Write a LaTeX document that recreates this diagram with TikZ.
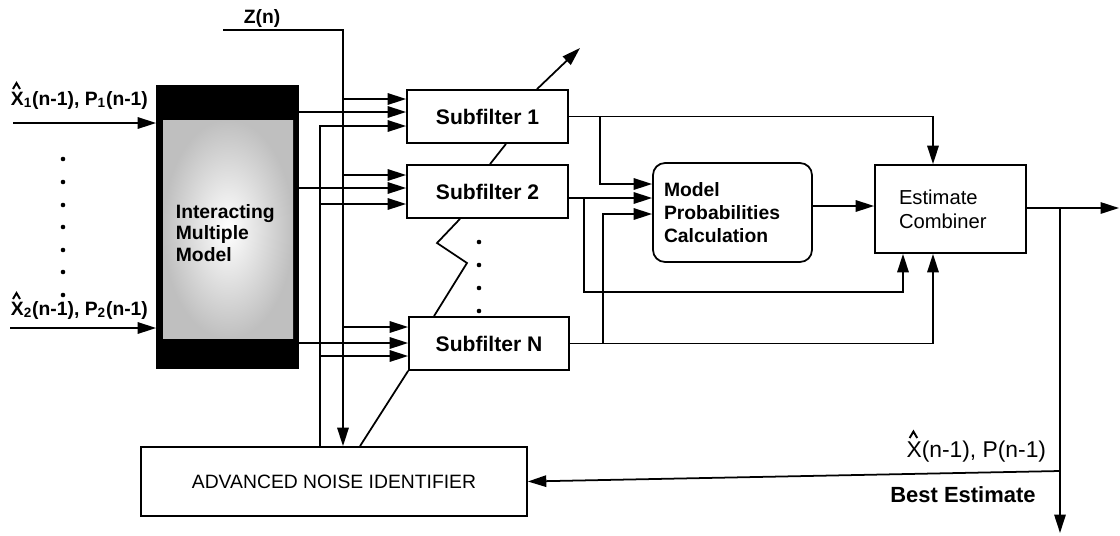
\documentclass[tikz,border=0pt]{standalone}
\usepackage{fontspec}
\setmainfont{Liberation Sans}
\usetikzlibrary{arrows.meta,calc}
\begin{document}
\begin{tikzpicture}[x=0.02cm, y=-0.02cm, line width=1pt,
  box/.style={draw, line width=1pt, inner sep=0pt},
  arr/.style={-{Triangle[length=10.5pt,width=6.5pt]}},
  lab/.style={inner sep=0pt},
  hatmark/.style={line width=1.1pt, line join=miter}]
\useasboundingbox (0,0) rectangle (1120,535);

% IMM block
\node[box, fill=black, minimum width=2.82cm, minimum height=5.64cm] (imm) at (227.5,227) {};
\fill[gray!50] (163,120) rectangle (293,338);
\shade[inner color=white, outer color=gray!50] (163,120) rectangle (293,338);
\node[lab, anchor=west, align=left, font=\fontsize{11}{12.2}\selectfont\bfseries] (immtext) at (175,233) {Interacting\\Multiple\\Model};

% subfilters
\node[box, minimum width=3.22cm, minimum height=1.06cm, font=\fontsize{12}{14}\selectfont\bfseries] (sf1) at (487.5,116.5) {Subfilter 1};
\node[box, minimum width=3.22cm, minimum height=1.06cm, font=\fontsize{12}{14}\selectfont\bfseries] (sf2) at (487.5,191.5) {Subfilter 2};
\node[box, minimum width=3.2cm, minimum height=1.06cm, font=\fontsize{12}{14}\selectfont\bfseries] (sfN) at (489,343.5) {Subfilter N};

% model probabilities
\node[box, rounded corners=0.24cm, minimum width=3.18cm, minimum height=1.98cm, text width=2.74cm, inner xsep=0.22cm, align=left, font=\fontsize{11}{13}\selectfont\bfseries] (mp) at (732.5,212.5) {Model\\Probabilities\\Calculation};

% estimate combiner
\node[box, minimum width=3.02cm, minimum height=1.76cm, text width=2.06cm, inner xsep=0.48cm, align=left, font=\fontsize{11.5}{13.5}\selectfont] (ec) at (950.5,209) {Estimate\\Combiner};

% noise identifier
\node[box, minimum width=7.72cm, minimum height=1.38cm, font=\fontsize{11}{13}\selectfont] (ani) at (334,481.5) {ADVANCED NOISE IDENTIFIER};

% labels
\node[lab, font=\fontsize{11}{13}\selectfont\bfseries] (zlab) at (262,18) {Z(n)};
\node[lab, anchor=base west, font=\fontsize{11}{13}\selectfont\bfseries] (x1lab) at (10,105) {X\textsubscript{1}(n-1), P\textsubscript{1}(n-1)};
\node[lab, anchor=base west, font=\fontsize{11}{13}\selectfont\bfseries] (x2lab) at (10,315) {X\textsubscript{2}(n-1), P\textsubscript{2}(n-1)};
\node[lab, anchor=base east, font=\fontsize{13}{15}\selectfont] (xlab) at (1047,457) {X(n-1), P(n-1)};
\node[lab, font=\fontsize{12.5}{15}\selectfont\bfseries] (best) at (963,495) {Best Estimate};

% hats over X
\draw[hatmark] ($(x1lab.base west)+(3,-16)$) -- ++(3.5,-6) -- ++(3.5,6);
\draw[hatmark] ($(x2lab.base west)+(3,-16)$) -- ++(3.5,-6) -- ++(3.5,6);
\draw[hatmark] ($(xlab.base west)+(4,-19)$) -- ++(3.8,-6.5) -- ++(3.8,6.5);

% dots
\foreach \y in {159,182,205,227,250,272,295} \fill (63,\y) circle (1.3pt);
\foreach \y in {242,265,288,311} \fill (479,\y) circle (1.3pt);

% coordinates
\coordinate (in1) at (13,123);
\coordinate (in2) at (10,328);
\coordinate (zstart) at (223,30);
\coordinate (sfup) at (580,48);
\coordinate (outend) at (1119,208);
\coordinate (bestend) at (1060,533);

% inputs to IMM
\draw[arr] (in1) -- (imm.west |- in1);
\draw[arr] (in2) -- (imm.west |- in2);

% Z(n)
\draw[arr] (zstart) -| (343,0 |- ani.north);
\draw[arr] (343,99) -- (sf1.west |- 0,99);
\draw[arr] (343,175) -- (sf2.west |- 0,175);
\draw[arr] (343,327) -- (sfN.west |- 0,327);

% IMM outputs
\draw[arr] (imm.east |- 0,112) -- (sf1.west |- 0,112);
\draw[arr] (imm.east |- 0,188) -- (sf2.west |- 0,188);
\draw[arr] (imm.east |- 0,343) -- (sfN.west |- 0,343);

% noise identifier feedback
\draw[arr] (320,0 |- ani.north) |- (sf1.west |- 0,126);
\draw[arr] (320,204) -- (sf2.west |- 0,204);
\draw[arr] (320,356) -- (sfN.west |- 0,356);

% subfilter links
\draw[arr] (537,0 |- sf1.north) -- (sfup);
\draw (506,0 |- sf1.south) -- (490,0 |- sf2.north);
\draw (460,0 |- sf2.south) -- (437,243) -- (467,263) -- (434,0 |- sfN.north);
\draw (sfN.south west) -- (360,0 |- ani.north);

% subfilter outputs
\draw[arr] (sf1.east) -| (933,0 |- ec.north);
\draw[arr] (600,0 |- sf1.east) |- (mp.west |- 0,184);
\draw[arr] (sf2.east |- 0,198) -- (mp.west |- 0,198);
\draw[arr] (584,198) |- (903,292) -- (903,0 |- ec.south);
\draw[arr] (sfN.east) -| (933,0 |- ec.south);
\draw[arr] (603,0 |- sfN.east) |- (mp.west |- 0,214);

% combiner
\draw[arr] (mp.east |- 0,206) -- (ec.west |- 0,206);
\draw[arr] (ec.east |- 0,208) -- (outend);
\draw[arr] (1060,208) -- (bestend);
\draw[arr] (1060,471) -- (ani.east);
\end{tikzpicture}
\end{document}
